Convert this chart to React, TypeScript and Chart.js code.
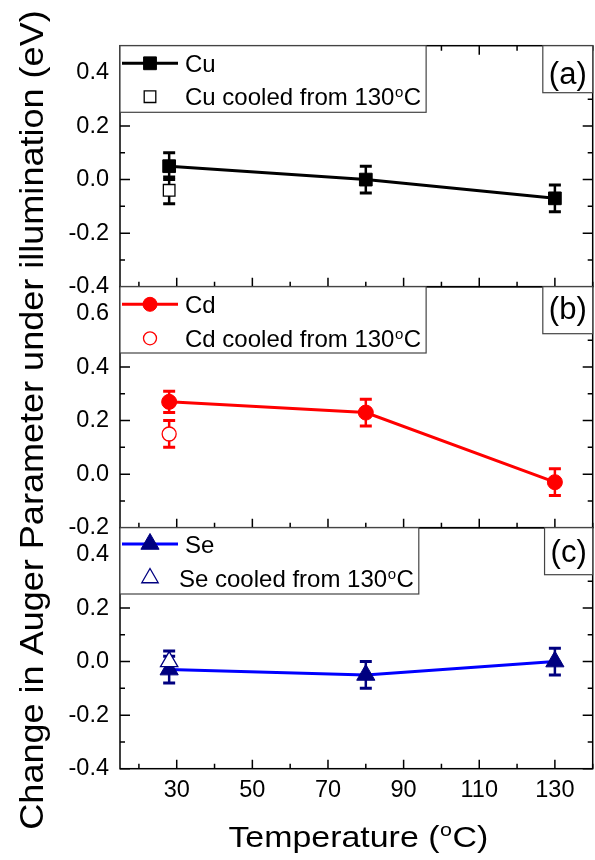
import { useEffect, useRef } from 'react';
import { Chart, registerables } from 'chart.js';

Chart.register(...registerables);

const FONT = '"Liberation Sans", Arial, Helvetica, sans-serif';

// ---- data ----
const temperatures = [28, 80, 130];
const cuValues = [0.05, 0.0, -0.07];
const cuErrors = [0.05, 0.05, 0.05];
const cuCooledTemps = [28];
const cuCooledValues = [-0.04];
const cuCooledErrors = [0.05];

const cdValues = [0.27, 0.23, -0.03];
const cdErrors = [0.04, 0.05, 0.05];
const cdCooledTemps = [28];
const cdCooledValues = [0.15];
const cdCooledErrors = [0.05];

const seValues = [-0.03, -0.05, 0.0];
const seErrors = [0.05, 0.05, 0.05];
const seCooledTemps = [28];
const seCooledValues = [0.0];
const seCooledErrors = [0.04];

// ---- axes / labels ----
const xMin = 15;
const xMax = 140;
const xTickValues = [30, 50, 70, 90, 110, 130];
const xMinorValues = [20, 40, 60, 80, 100, 120, 140];
const yTicksA = [-0.4, -0.2, 0.0, 0.2, 0.4];
const yMinorA = [-0.3, -0.1, 0.1, 0.3];
const yTicksB = [-0.2, 0.0, 0.2, 0.4, 0.6];
const yMinorB = [-0.1, 0.1, 0.3, 0.5];
const yTicksC = [-0.4, -0.2, 0.0, 0.2, 0.4];
const yMinorC = [-0.3, -0.1, 0.1, 0.3];
const legendA = ['Cu', 'Cu cooled from 130°C'];
const legendB = ['Cd', 'Cd cooled from 130°C'];
const legendC = ['Se', 'Se cooled from 130°C'];
const panelLabels = ['(a)', '(b)', '(c)'];
const xTitle = 'Temperature (°C)';
const yTitle = 'Change in Auger Parameter under illumination (eV)';

const toPoints = (xs: number[], ys: number[]) => ys.map((y, i) => ({ x: xs[i], y }));

const panels = [
  { axis: 'ya', min: -0.4, max: 0.5, ticks: yTicksA, minor: yMinorA, legend: legendA, label: panelLabels[0],
    lineColor: '#000000', markColor: '#000000', style: 'rect', row1: 17.6, row2: 51, text2: 65, boxH: 66.6, labelBase: 38, topTicks: true },
  { axis: 'yb', min: -0.2, max: 0.7, ticks: yTicksB, minor: yMinorB, legend: legendB, label: panelLabels[1],
    lineColor: '#ff0000', markColor: '#ff0000', style: 'circle', row1: 17.6, row2: 51.6, text2: 65, boxH: 66.3, labelBase: 32, topTicks: false },
  { axis: 'yc', min: -0.4, max: 0.5, ticks: yTicksC, minor: yMinorC, legend: legendC, label: panelLabels[2],
    lineColor: '#0000ff', markColor: '#000080', style: 'triangle', row1: 16.3, row2: 50.3, text2: 59, boxH: 66.3, labelBase: 34, topTicks: false },
];

function drawRich(ctx: CanvasRenderingContext2D, text: string, x: number, y: number, size: number, sup: number, raise: number, draw = true) {
  const parts = text.split('°');
  ctx.font = `${size}px ${FONT}`;
  if (draw) ctx.fillText(parts[0], x, y);
  x += ctx.measureText(parts[0]).width;
  if (parts.length > 1) {
    ctx.font = `${sup}px ${FONT}`;
    if (draw) ctx.fillText('o', x + 0.5, y - raise);
    x += ctx.measureText('o').width + 1;
    ctx.font = `${size}px ${FONT}`;
    if (draw) ctx.fillText(parts[1], x, y);
    x += ctx.measureText(parts[1]).width;
  }
  return x;
}

function drawMarker(ctx: CanvasRenderingContext2D, style: string, x: number, y: number, color: string, filled: boolean) {
  ctx.save();
  ctx.fillStyle = filled ? color : '#ffffff';
  ctx.strokeStyle = color;
  ctx.lineWidth = filled ? 1 : 1.3;
  ctx.beginPath();
  if (style === 'rect') {
    const h = filled ? 6.4 : 5.8;
    ctx.rect(x - h, y - h, 2 * h, 2 * h);
  } else if (style === 'circle') {
    ctx.arc(x, y, filled ? 7 : 6.5, 0, Math.PI * 2);
  } else {
    const r = filled ? 10.5 : 9.5;
    ctx.moveTo(x, y - r);
    ctx.lineTo(x + r * 0.866, y + r / 2);
    ctx.lineTo(x - r * 0.866, y + r / 2);
    ctx.closePath();
  }
  ctx.fill();
  ctx.stroke();
  ctx.restore();
}

const errorBarPlugin = {
  id: 'errorBars',
  beforeDatasetDraw(chart: any, args: any) {
    const ds = chart.data.datasets[args.index];
    const meta = args.meta;
    const ys = chart.scales[meta.yAxisID];
    const ctx = chart.ctx as CanvasRenderingContext2D;
    ctx.save();
    ctx.strokeStyle = ds.errorColor;
    meta.data.forEach((el: any, j: number) => {
      const v = ds.data[j].y;
      const e = ds.errorBars[j];
      const t = ys.getPixelForValue(v + e);
      const b = ys.getPixelForValue(v - e);
      ctx.lineWidth = 2.5;
      ctx.beginPath();
      ctx.moveTo(el.x, t);
      ctx.lineTo(el.x, b);
      ctx.stroke();
      ctx.lineWidth = 3;
      ctx.beginPath();
      ctx.moveTo(el.x - 6, t);
      ctx.lineTo(el.x + 6, t);
      ctx.moveTo(el.x - 6, b);
      ctx.lineTo(el.x + 6, b);
      ctx.stroke();
    });
    ctx.restore();
  },
};

const decorPlugin = {
  id: 'decor',
  afterDatasetsDraw(chart: any) {
    const ctx = chart.ctx as CanvasRenderingContext2D;
    const { left, right } = chart.chartArea;
    const xs = chart.scales.x;
    ctx.save();
    // frames and ticks
    panels.forEach((p) => {
      const ys = chart.scales[p.axis];
      const top = ys.top;
      const bottom = ys.bottom;
      ctx.strokeStyle = '#000';
      ctx.lineWidth = 1.5;
      ctx.strokeRect(left, top, right - left, bottom - top);
      ctx.beginPath();
      const yTick = (v: number, len: number) => {
        const py = ys.getPixelForValue(v);
        ctx.moveTo(left, py); ctx.lineTo(left + len, py);
        ctx.moveTo(right, py); ctx.lineTo(right - len, py);
      };
      p.ticks.forEach((v) => yTick(v, 10));
      p.minor.forEach((v) => yTick(v, 5));
      const xTick = (v: number, len: number) => {
        const px = xs.getPixelForValue(v);
        ctx.moveTo(px, bottom); ctx.lineTo(px, bottom - len);
        if (p.topTicks) { ctx.moveTo(px, top); ctx.lineTo(px, top + len); }
      };
      xTickValues.forEach((v) => xTick(v, 9));
      xMinorValues.forEach((v) => xTick(v, 5));
      ctx.stroke();
    });
    // legends & panel labels
    panels.forEach((p) => {
      const ys = chart.scales[p.axis];
      const top = ys.top;
      ctx.textAlign = 'left';
      ctx.textBaseline = 'alphabetic';
      const end1 = drawRich(ctx, p.legend[0], left + 65, 0, 24, 15, 8, false);
      const end2 = drawRich(ctx, p.legend[1], left + p.text2, 0, 24, 15, 8, false);
      const boxR = Math.max(end1, end2) + 5;
      ctx.fillStyle = '#fff';
      ctx.fillRect(left, top, boxR - left, p.boxH);
      ctx.strokeStyle = '#444';
      ctx.lineWidth = 1.2;
      ctx.strokeRect(left, top, boxR - left, p.boxH);
      const r1 = top + p.row1;
      const r2 = top + p.row2;
      ctx.strokeStyle = p.lineColor;
      ctx.lineWidth = 3;
      ctx.beginPath();
      ctx.moveTo(left + 2, r1);
      ctx.lineTo(left + 58, r1);
      ctx.stroke();
      drawMarker(ctx, p.style, left + 30, r1, p.markColor, true);
      drawMarker(ctx, p.style, left + 30, r2, p.markColor, false);
      ctx.fillStyle = '#000';
      drawRich(ctx, p.legend[0], left + 65, r1 + 8.6, 24, 15, 8);
      drawRich(ctx, p.legend[1], left + p.text2, r2 + 8.6, 24, 15, 8);
      // panel label
      ctx.font = `31px ${FONT}`;
      const lw = ctx.measureText(p.label).width + 12;
      ctx.fillStyle = '#fff';
      ctx.fillRect(right - lw, top, lw, 47);
      ctx.strokeStyle = '#444';
      ctx.lineWidth = 1.2;
      ctx.strokeRect(right - lw, top, lw, 47);
      ctx.fillStyle = '#000';
      ctx.textAlign = 'center';
      ctx.fillText(p.label, right - lw / 2, top + p.labelBase);
    });
    // axis titles
    ctx.fillStyle = '#000';
    ctx.textAlign = 'left';
    ctx.textBaseline = 'alphabetic';
    ctx.save();
    ctx.translate((left + right) / 2 + 2, 846.5);
    ctx.scale(1.13, 1);
    const wx = drawRich(ctx, xTitle, 0, 0, 30, 19, 11, false);
    drawRich(ctx, xTitle, -wx / 2, 0, 30, 19, 11);
    ctx.restore();
    ctx.save();
    ctx.translate(42.5, 420);
    ctx.rotate(-Math.PI / 2);
    ctx.scale(1.06, 1);
    const wy = drawRich(ctx, yTitle, 0, 0, 34, 20, 12, false);
    drawRich(ctx, yTitle, -wy / 2, 0, 34, 20, 12);
    ctx.restore();
    ctx.restore();
  },
};

const tickFont = { family: FONT, size: 23.5 };

function yAxis(min: number, max: number, ticks: number[], weight: number) {
  return {
    type: 'linear',
    position: 'left',
    stack: 'panels',
    stackWeight: 1,
    weight,
    min,
    max,
    grid: { display: false, drawTicks: false },
    border: { display: false },
    afterBuildTicks: (s: any) => { s.ticks = ticks.map((v) => ({ value: v })); },
    afterFit: (s: any) => { s.width = 120; s.paddingTop = 0; s.paddingBottom = 0; s.paddingLeft = 0; s.paddingRight = 0; },
    ticks: {
      font: tickFont,
      color: '#000',
      padding: 11,
      autoSkip: false,
      callback: (v: any) => Number(v).toFixed(1),
    },
  };
}

export default function App() {
  const ref = useRef<HTMLCanvasElement>(null);
  useEffect(() => {
    const hollow = (data: any, errs: number[], color: string, style: string, radius: number, axis: string) => ({
      data, errorBars: errs, errorColor: color, yAxisID: axis, showLine: false,
      pointStyle: style, pointRadius: radius, pointBackgroundColor: '#ffffff', pointBorderColor: color,
      pointBorderWidth: 1.3, borderColor: color, backgroundColor: '#ffffff',
    });
    const filled = (data: any, errs: number[], line: string, mark: string, style: string, radius: number, axis: string) => ({
      data, errorBars: errs, errorColor: mark, yAxisID: axis, showLine: true,
      borderColor: line, borderWidth: 3, backgroundColor: mark,
      pointStyle: style, pointRadius: radius, pointBackgroundColor: mark, pointBorderColor: mark, pointBorderWidth: 1,
    });
    const chart = new Chart(ref.current as HTMLCanvasElement, {
      type: 'scatter',
      data: {
        datasets: [
          hollow(toPoints(cuCooledTemps, cuCooledValues), cuCooledErrors, '#000000', 'rect', 8.2, 'ya'),
          hollow(toPoints(cdCooledTemps, cdCooledValues), cdCooledErrors, '#ff0000', 'circle', 7, 'yb'),
          hollow(toPoints(seCooledTemps, seCooledValues), seCooledErrors, '#000080', 'triangle', 10, 'yc'),
          filled(toPoints(temperatures, cuValues), cuErrors, '#000000', '#000000', 'rect', 9, 'ya'),
          filled(toPoints(temperatures, cdValues), cdErrors, '#ff0000', '#ff0000', 'circle', 7.5, 'yb'),
          filled(toPoints(temperatures, seValues), seErrors, '#0000ff', '#000080', 'triangle', 10.5, 'yc'),
        ] as any,
      },
      options: {
        responsive: false,
        animation: false,
        devicePixelRatio: 1,
        events: [],
        layout: { autoPadding: false, padding: { top: 45.7, right: 2.3, left: 0, bottom: 0 } },
        plugins: { legend: { display: false }, tooltip: { enabled: false }, title: { display: false } },
        scales: {
          x: {
            type: 'linear',
            position: 'bottom',
            min: xMin,
            max: xMax,
            grid: { display: false, drawTicks: false },
            border: { display: false },
            afterBuildTicks: (s: any) => { s.ticks = xTickValues.map((v) => ({ value: v })); },
            afterFit: (s: any) => { s.height = 91.3; s.paddingLeft = 0; s.paddingRight = 0; s.paddingTop = 0; s.paddingBottom = 0; },
            ticks: { font: tickFont, color: '#000', padding: 8, autoSkip: false, maxRotation: 0 },
          },
          yc: yAxis(-0.4, 0.5, yTicksC, 1),
          yb: yAxis(-0.2, 0.7, yTicksB, 2),
          ya: yAxis(-0.4, 0.5, yTicksA, 3),
        } as any,
      },
      plugins: [errorBarPlugin, decorPlugin],
    });
    return () => chart.destroy();
  }, []);
  return (
    <div style={{ position: 'absolute', left: 0, top: 0, width: 595, height: 860, background: '#fff' }}>
      <canvas ref={ref} width={595} height={860} style={{ display: 'block', width: 595, height: 860 }} />
    </div>
  );
}
